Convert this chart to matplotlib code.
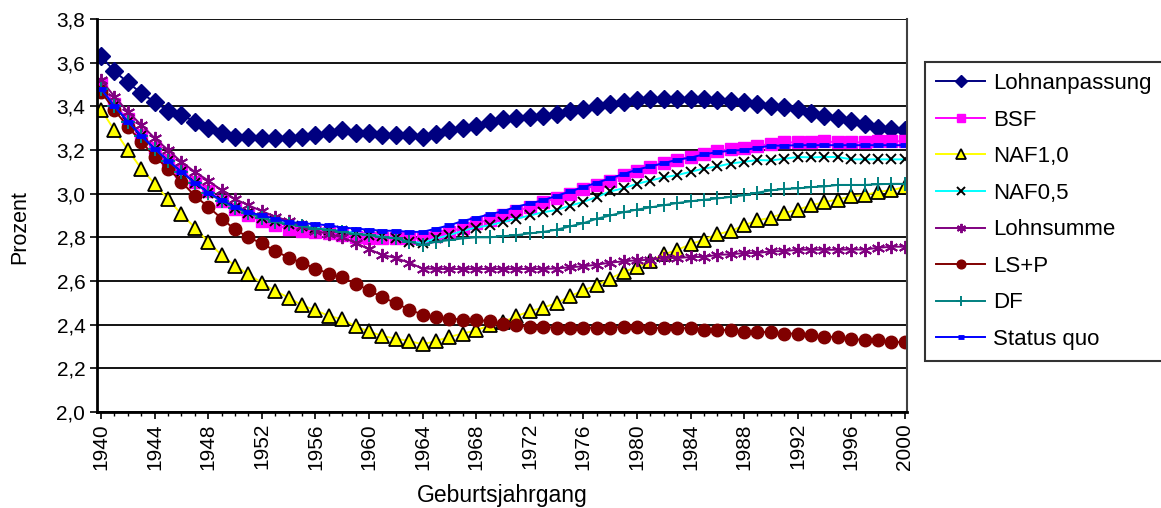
import numpy as np
import matplotlib.pyplot as plt
from matplotlib.ticker import FuncFormatter, MultipleLocator

plt.rcParams['font.family'] = ['Liberation Sans', 'DejaVu Sans']

years = np.arange(1940, 2001)

lohnanpassung = [
    3.63, 3.56, 3.51, 3.46, 3.42, 3.38, 3.36, 3.33, 3.30, 3.28,
    3.26, 3.26, 3.255, 3.255, 3.255, 3.26, 3.27, 3.28, 3.29, 3.28,
    3.28, 3.27, 3.27, 3.27, 3.26, 3.275, 3.29, 3.30, 3.31, 3.33,
    3.34, 3.345, 3.35, 3.355, 3.365, 3.38, 3.39, 3.40, 3.41, 3.42,
    3.43, 3.435, 3.435, 3.435, 3.435, 3.435, 3.43, 3.425, 3.42, 3.41,
    3.40, 3.395, 3.39, 3.37, 3.355, 3.345, 3.335, 3.32, 3.30, 3.295,
    3.29]

bsf = [
    3.50, 3.41, 3.34, 3.27, 3.21, 3.155, 3.105, 3.055, 3.01, 2.965,
    2.93, 2.90, 2.875, 2.855, 2.84, 2.83, 2.825, 2.82, 2.81, 2.80,
    2.795, 2.795, 2.795, 2.795, 2.795, 2.805, 2.825, 2.845, 2.865, 2.88,
    2.90, 2.92, 2.94, 2.96, 2.98, 3.00, 3.02, 3.04, 3.06, 3.085,
    3.105, 3.12, 3.14, 3.155, 3.17, 3.18, 3.195, 3.205, 3.21, 3.22,
    3.227, 3.235, 3.235, 3.235, 3.24, 3.235, 3.235, 3.235, 3.24, 3.24,
    3.24]

naf10 = [
    3.385, 3.29, 3.20, 3.115, 3.045, 2.975, 2.906, 2.845, 2.779, 2.718,
    2.669, 2.631, 2.591, 2.554, 2.524, 2.489, 2.466, 2.44, 2.425, 2.392,
    2.369, 2.348, 2.336, 2.325, 2.31, 2.325, 2.344, 2.359, 2.374, 2.397,
    2.412, 2.438, 2.462, 2.478, 2.499, 2.53, 2.557, 2.58, 2.611, 2.641,
    2.664, 2.69, 2.722, 2.742, 2.768, 2.79, 2.814, 2.829, 2.855, 2.878,
    2.89, 2.911, 2.927, 2.946, 2.962, 2.973, 2.988, 2.993, 3.008, 3.016,
    3.03]

naf05 = [
    3.48, 3.40, 3.33, 3.265, 3.205, 3.15, 3.10, 3.05, 3.005, 2.965,
    2.935, 2.91, 2.89, 2.875, 2.86, 2.85, 2.845, 2.835, 2.83, 2.82,
    2.81, 2.805, 2.795, 2.78, 2.775, 2.795, 2.81, 2.83, 2.845, 2.855,
    2.87, 2.885, 2.90, 2.915, 2.925, 2.945, 2.962, 2.985, 3.01, 3.025,
    3.045, 3.06, 3.075, 3.085, 3.10, 3.115, 3.125, 3.138, 3.146, 3.154,
    3.152, 3.16, 3.168, 3.166, 3.168, 3.168, 3.157, 3.157, 3.157, 3.157,
    3.157]

lohnsumme = [
    3.52, 3.445, 3.375, 3.315, 3.255, 3.20, 3.145, 3.10, 3.06, 3.015,
    2.975, 2.947, 2.92, 2.895, 2.875, 2.85, 2.83, 2.815, 2.80, 2.775,
    2.745, 2.72, 2.705, 2.684, 2.657, 2.655, 2.655, 2.655, 2.655, 2.655,
    2.655, 2.655, 2.655, 2.655, 2.657, 2.663, 2.667, 2.675, 2.684, 2.69,
    2.695, 2.697, 2.706, 2.705, 2.71, 2.71, 2.72, 2.722, 2.728, 2.728,
    2.736, 2.737, 2.743, 2.743, 2.743, 2.743, 2.744, 2.744, 2.752, 2.757,
    2.757]

ls_p = [
    3.467, 3.383, 3.306, 3.238, 3.17, 3.115, 3.054, 2.99, 2.94, 2.886,
    2.836, 2.80, 2.772, 2.738, 2.707, 2.683, 2.657, 2.634, 2.616, 2.588,
    2.557, 2.525, 2.499, 2.469, 2.446, 2.435, 2.428, 2.423, 2.42, 2.417,
    2.405, 2.398, 2.39, 2.39, 2.386, 2.386, 2.386, 2.386, 2.386, 2.39,
    2.39, 2.386, 2.383, 2.384, 2.384, 2.375, 2.377, 2.374, 2.366, 2.366,
    2.366, 2.359, 2.359, 2.351, 2.344, 2.344, 2.336, 2.328, 2.328, 2.32,
    2.32]

df = [
    3.48, 3.40, 3.33, 3.265, 3.205, 3.15, 3.10, 3.05, 3.005, 2.965,
    2.935, 2.91, 2.89, 2.87, 2.86, 2.85, 2.84, 2.835, 2.825, 2.815,
    2.81, 2.80, 2.795, 2.78, 2.765, 2.78, 2.787, 2.795, 2.80, 2.80,
    2.805, 2.81, 2.818, 2.825, 2.835, 2.85, 2.865, 2.885, 2.90, 2.915,
    2.927, 2.937, 2.947, 2.957, 2.965, 2.972, 2.978, 2.985, 2.993, 3.005,
    3.015, 3.022, 3.024, 3.03, 3.033, 3.04, 3.04, 3.04, 3.043, 3.045,
    3.045]

status_quo = [
    3.48, 3.40, 3.33, 3.265, 3.205, 3.15, 3.10, 3.05, 3.005, 2.97,
    2.94, 2.915, 2.90, 2.885, 2.87, 2.865, 2.86, 2.855, 2.845, 2.84,
    2.835, 2.83, 2.83, 2.825, 2.825, 2.84, 2.855, 2.875, 2.89, 2.905,
    2.92, 2.94, 2.955, 2.97, 2.99, 3.01, 3.03, 3.05, 3.07, 3.09,
    3.11, 3.125, 3.14, 3.155, 3.165, 3.18, 3.19, 3.197, 3.20, 3.21,
    3.22, 3.22, 3.222, 3.222, 3.222, 3.222, 3.222, 3.222, 3.222, 3.222,
    3.222]

asterisk = (6, 2, 0)

series = [
    ("Lohnanpassung", lohnanpassung, dict(color="#000080", marker="D", ms=9, mfc="#000080", mec="#000080")),
    ("BSF", bsf, dict(color="#FF00FF", marker="s", ms=8.5, mfc="#FF00FF", mec="#FF00FF")),
    ("NAF1,0", naf10, dict(color="#FFFF00", marker="^", ms=10, mfc="#FFFF00", mec="black", mew=1.3)),
    ("NAF0,5", naf05, dict(color="#00FFFF", marker="x", ms=7.5, mec="black", mew=1.4)),
    ("Lohnsumme", lohnsumme, dict(color="#800080", marker=asterisk, ms=9.5, mec="#800080", mew=1.4)),
    ("LS+P", ls_p, dict(color="#800000", marker="o", ms=9, mfc="#800000", mec="#800000")),
    ("DF", df, dict(color="#008080", marker="+", ms=9.5, mec="#008080", mew=1.4)),
    ("Status quo", status_quo, dict(color="#0000FF", marker="_", ms=7, mec="#0000FF", mew=3.5)),
]

fig = plt.figure(figsize=(11.61, 5.08), dpi=100)
ax = fig.add_axes([0.0836, 0.189, 0.6975, 0.7736])

for label, vals, style in series:
    ax.plot(years, vals, lw=1.4, label=label, **style)

ax.set_xlim(1939.7, 2000.15)
ax.set_ylim(2.0, 3.8)
ax.yaxis.set_major_locator(MultipleLocator(0.2))
ax.yaxis.set_major_formatter(FuncFormatter(lambda v, p: f"{v:.1f}".replace(".", ",")))
ax.set_xticks(np.arange(1940, 2001, 4))
ax.xaxis.set_minor_locator(MultipleLocator(1))
ax.tick_params(axis="x", which="major", labelrotation=90, labelsize=15, length=5, width=1.2, pad=3)
ax.tick_params(axis="x", which="minor", length=3, width=1)
ax.tick_params(axis="y", labelsize=15, length=5, width=1.2)
ax.grid(axis="y", color="black", lw=1.3)
ax.set_axisbelow(True)

ax.spines["left"].set_linewidth(2)
ax.spines["bottom"].set_linewidth(2)
ax.spines["top"].set_visible(False)
ax.spines["right"].set_color("#404040")
ax.spines["right"].set_linewidth(1.5)

ax.set_ylabel("Prozent", fontsize=15.5)
ax.yaxis.set_label_coords(-0.083, 0.47)
ax.set_xlabel("Geburtsjahrgang", fontsize=16.5, labelpad=10)

leg = ax.legend(loc="upper left", bbox_to_anchor=(0.797, 0.878), bbox_transform=fig.transFigure,
                fontsize=16, frameon=True, fancybox=False, edgecolor="black",
                handlelength=2.2, handletextpad=0.35, labelspacing=0.7,
                borderpad=0.5, borderaxespad=0, markerscale=0.7)
leg.get_frame().set_linewidth(1.5)

fig.savefig("out.png", dpi=100)
